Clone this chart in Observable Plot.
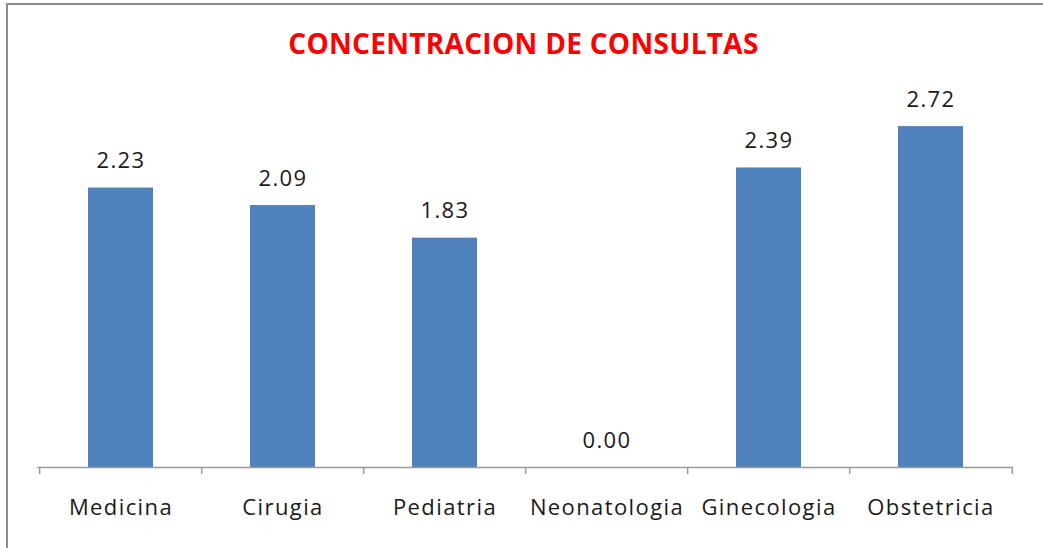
<!DOCTYPE html>
<html>
<head>
<meta charset="utf-8">
<script src="https://cdn.jsdelivr.net/npm/d3@7"></script>
<script src="https://cdn.jsdelivr.net/npm/@observablehq/plot@0.6"></script>
<style>
  html, body { margin: 0; padding: 0; background: #fff; }
  #wrap { position: relative; width: 1043px; height: 548px; overflow: hidden; background: #fff; }
  #frame { position: absolute; left: 6px; top: 3px; width: 1100px; height: 600px;
           border-left: 2px solid #8a8a8a; border-top: 2px solid #8a8a8a; box-sizing: border-box; }
  #title { position: absolute; left: 0; top: 0; width: 1043px; height: 70px;
           text-align: center; color: #ff0000; font: bold 28px "Open Sans", sans-serif;
           line-height: 86px; letter-spacing: 0.3px; padding-left: 4px; box-sizing: border-box; }
  #chart { position: absolute; left: 0; top: 70px; }
  #chart text { letter-spacing: 1.4px; }
</style>
</head>
<body>
<div id="wrap">
  <div id="frame"></div>
  <div id="title">CONCENTRACION DE CONSULTAS</div>
  <div id="chart"></div>
</div>
<script>
const categories = ["Medicina", "Cirugia", "Pediatria", "Neonatologia", "Ginecologia", "Obstetricia"];
const values = [2.23, 2.09, 1.83, 0.00, 2.39, 2.72];

const data = categories.map((c, i) => ({category: c, value: values[i]}));

const width = 1043, height = 478;
const marginLeft = 37, marginRight = 30, marginTop = 21, marginBottom = 81;
const step = (width - marginLeft - marginRight) / categories.length;

const plot = Plot.plot({
  width, height, marginLeft, marginRight, marginTop, marginBottom,
  style: {fontFamily: "'Open Sans', sans-serif", color: "#1a1a1a", background: "transparent"},
  x: {domain: categories, paddingInner: 0.6, paddingOuter: 0.3, label: null},
  y: {domain: [0, 3], axis: null},
  marks: [
    Plot.barY(data, {x: "category", y: "value", fill: "#4f81bd"}),
    Plot.ruleY([0], {stroke: "#9a9a9a", strokeWidth: 1.5}),
    Plot.ruleX(categories, {x: d => d, y1: 0, y2: 0, dx: -step / 2, insetBottom: -7, stroke: "#9a9a9a", strokeWidth: 1.5}),
    Plot.ruleX([categories[categories.length - 1]], {x: d => d, y1: 0, y2: 0, dx: step / 2, insetBottom: -7, stroke: "#9a9a9a", strokeWidth: 1.5}),
    Plot.axisX({tickSize: 0, tickPadding: 32, fontSize: 22, label: null, fill: "#1a1a1a"}),
    Plot.text(data, {x: "category", y: "value", text: d => d.value.toFixed(2), dy: -27, fontSize: 22, fill: "#1a1a1a"})
  ]
});
document.getElementById("chart").appendChild(plot);
</script>
</body>
</html>
